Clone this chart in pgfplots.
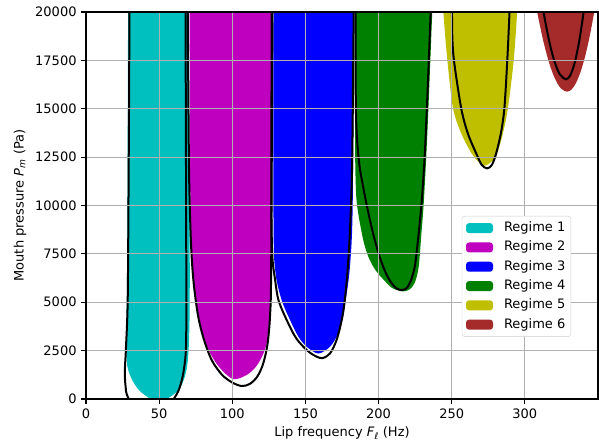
\documentclass[border=0pt]{standalone}
\usepackage{pgfplots}
\pgfplotsset{compat=1.18}
\usepackage{fontspec}
\setmainfont{DejaVu Sans}
\definecolor{c1}{HTML}{00BFBF}
\definecolor{c2}{HTML}{BF00BF}
\definecolor{c3}{HTML}{0000FF}
\definecolor{c4}{HTML}{008000}
\definecolor{c5}{HTML}{BFBF00}
\definecolor{c6}{HTML}{A52A2A}
\definecolor{gridc}{HTML}{B0B0B0}
\definecolor{legc}{HTML}{CCCCCC}
\begin{document}
\fontsize{13}{15.6}\selectfont
\begin{tikzpicture}
\useasboundingbox (-86pt,-45pt) rectangle (513pt,399pt);
\begin{axis}[
  scale only axis, width=512pt, height=387pt,
  xmin=0, xmax=350, ymin=0, ymax=20000,
  xtick={0,50,...,300}, ytick={0,2500,...,20000},
  scaled y ticks=false,
  grid=major, major grid style={gridc, line width=1.1pt},
  axis line style={line width=1.1pt},
  tick align=outside, tick pos=left, major tick length=4.9pt,
  tick style={black, line width=1.1pt},
  /pgf/number format/assume math mode=true, /pgf/number format/1000 sep={},
  tick label style={font=\fontsize{13}{15.6}\selectfont},
  label style={font=\fontsize{13}{15.6}\selectfont},
  xlabel={Lip frequency \textit{F}\textsubscript{\itshape ℓ} (Hz)},
  ylabel={Mouth pressure \textit{P}\textsubscript{\itshape m} (Pa)},
  xlabel style={at={(axis description cs:0.5,-0.088)}, anchor=center},
  ylabel style={at={(axis description cs:-0.129,0.5)}, anchor=center},
  axis on top,
  legend cell align=left,
  legend style={at={(rel axis cs:0.734,0.473)}, anchor=north west, draw=legc, fill=white,
    rounded corners=3pt, font=\fontsize{13}{15.6}\selectfont, inner xsep=4pt, inner ysep=4pt,
    nodes={inner sep=1.5pt, text height=10pt, text depth=3pt}, row sep=3.3pt, column sep=9.5pt},
  legend image code/.code={\fill[#1] (0pt,-5pt) rectangle (27pt,5pt);},
]
% Regime fills
\addplot[fill=c1, draw=none, smooth] coordinates {(28.8,21000) (28.4,11000) (27.9,5100) (27.5,2800) (28.3,1670) (31.6,980) (36.1,465) (41.8,120) (49,-250) (57.7,120) (63.4,465) (66.8,980) (69.1,1670) (70.3,2800) (70.9,5100) (70.8,11000) (70.2,21000)} -- cycle;
\addlegendentry{Regime 1}
\addplot[fill=c2, draw=none, smooth] coordinates {(70.9,21000) (71.1,12000) (72.2,7500) (75,5100) (79,3600) (84,2500) (91,1650) (100.5,1030) (110,1250) (117,1750) (122.5,2600) (125.8,4000) (126.6,7000) (126.6,21000)} -- cycle;
\addlegendentry{Regime 2}
\addplot[fill=c3, draw=none, smooth] coordinates {(128.2,21000) (128.2,9000) (129.6,6500) (133.8,5100) (139.5,4080) (145.2,3220) (150.9,2700) (158.8,2350) (166.8,2700) (172.5,3390) (175.6,4200) (177.5,5100) (180.4,6820) (182.3,10000) (183.2,21000)} -- cycle;
\addlegendentry{Regime 3}
\addplot[fill=c4, draw=none, smooth] coordinates {(183.8,21000) (183.9,14600) (184.1,12000) (184.8,10400) (186.3,9500) (188.2,8700) (190.2,8000) (193,7350) (196.3,6850) (200,6450) (204.3,6100) (208,5800) (212,5640) (216.8,5560) (221,5650) (224.7,6000) (227.4,6820) (229.3,8570) (231,10280) (233.5,14000) (237.2,21000)} -- cycle;
\addlegendentry{Regime 4}
\addplot[fill=c5, draw=none, smooth] coordinates {(244,21000) (244.3,20000) (247,17520) (250.9,15020) (256.5,13730) (262.2,12870) (267,12350) (272.5,12060) (277,12250) (280.4,12520) (285,13730) (288.4,15020) (292.4,17520) (294.7,20000) (295,21000)} -- cycle;
\addlegendentry{Regime 5}
\addplot[fill=c6, draw=none, smooth] coordinates {(307.5,21000) (308,20206) (310,19414) (313,18376) (316,17518) (319,16840) (322,16342) (325,16024) (328.8,15880) (332,16002) (335,16337) (338,16887) (341,17651) (344,18629) (347,19822) (348.5,20498) (348.8,21000)} -- cycle;
\addlegendentry{Regime 6}
% Black curves
\addplot[black, line width=2pt, smooth, forget plot] coordinates {(29.8,21000) (29.1,11000) (28.5,5100) (27.3,2600) (26.6,1500) (27,700) (29.3,0) (45,-1800) (60,0) (63.4,465) (65.9,1100) (67.6,1900) (68.4,2800) (68.6,5100) (68.4,11000) (68,21000)};
\addplot[black, line width=2pt, smooth, forget plot] coordinates {(69.5,21000) (70.4,12000) (71.8,8000) (73.6,6000) (76.6,4300) (80.5,3100) (86,2000) (93,1250) (100,850) (106.5,670) (112,780) (117,1150) (121,1800) (124,2800) (125.8,4300) (126.6,7000) (127.5,21000)};
\addplot[black, line width=2pt, smooth, forget plot] coordinates {(127,21000) (126.7,11000) (127.3,7500) (129.3,6150) (131.6,5100) (137.2,4080) (143,3220) (148.6,2700) (154.3,2330) (161.1,2110) (166.8,2360) (171.3,3050) (174.8,4080) (176.9,5100) (179,6820) (180.6,9000) (182,12500) (183.1,21000)};
\addplot[black, line width=2pt, smooth, forget plot] coordinates {(184.3,21000) (184.3,17000) (184.6,14600) (185.5,13200) (187,12030) (189,11150) (192,9980) (196,8630) (200,7530) (204,6680) (208,6080) (212,5731) (215.6,5630) (219,5720) (222,6100) (224.7,6820) (226.5,7900) (228,9000) (229.7,10400) (231.5,12500) (233,15000) (234.5,17800) (236.1,21000)};
\addplot[black, line width=2pt, smooth, forget plot] coordinates {(250.2,21000) (250.3,19000) (251.5,17520) (256.5,15020) (261,13730) (266.7,12700) (270.5,12100) (274.2,11920) (277.5,12100) (280.4,12700) (283.6,13730) (286,15020) (288,17520) (289.5,20000) (289.8,21000)};
\addplot[black, line width=2pt, smooth, forget plot] coordinates {(312.3,21000) (312.5,20170) (315,19094) (318,18050) (321,17276) (324,16772) (328.1,16520) (331,16722) (334,17355) (337,18421) (339.5,19639) (340.5,20210)};
\end{axis}
\end{tikzpicture}
\end{document}
